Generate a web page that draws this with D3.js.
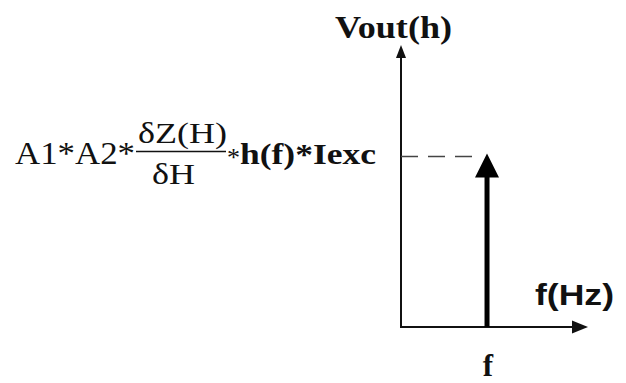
<!DOCTYPE html>
<html>
<head>
<meta charset="utf-8">
<script src="https://cdn.jsdelivr.net/npm/d3@7"></script>
<style>
  body { margin: 0; background: #fff; }
  .serif { font-family: "Liberation Serif", Tinos, "Times New Roman", serif; fill: #111; }
  .sans { font-family: "Liberation Sans", Arimo, Arial, sans-serif; fill: #111; }
</style>
</head>
<body>
<div id="chart"></div>
<script>
// spectrum: a single line at frequency f
var freqLabels = ["f"];
var freqs = [0.46];
var amplitudes = [0.615];
var yLabel = "Vout(h)";
var xLabel = "f(Hz)";

var svgWidth = 626;
var svgHeight = 383;

var margin = { top: 45, right: 38, bottom: 56, left: 401 };
var width = svgWidth - margin.left - margin.right;
var height = svgHeight - margin.top - margin.bottom;

var svg = d3.select("#chart")
  .append("svg")
  .attr("width", svgWidth)
  .attr("height", svgHeight);

var chartGroup = svg.append("g")
  .attr("transform", `translate(${margin.left}, ${margin.top})`);

var xScale = d3.scaleLinear().domain([0, 1]).range([0, width]);
var yScale = d3.scaleLinear().domain([0, 1]).range([height, 0]);

// axes: plain lines with arrow heads
chartGroup.append("line")
  .attr("x1", xScale(0)).attr("y1", yScale(0))
  .attr("x2", xScale(1) - 14).attr("y2", yScale(0))
  .attr("stroke", "#111").attr("stroke-width", 2);

chartGroup.append("path")
  .attr("d", `M${xScale(1)},${yScale(0)} l-16,-6.5 l0,13 Z`)
  .attr("fill", "#111");

chartGroup.append("line")
  .attr("x1", xScale(0)).attr("y1", yScale(0) + 1)
  .attr("x2", xScale(0)).attr("y2", yScale(1) + 11)
  .attr("stroke", "#111").attr("stroke-width", 2);

chartGroup.append("path")
  .attr("d", `M${xScale(0)},${yScale(1)} l-5,13 l10,0 Z`)
  .attr("fill", "#111");

// dashed level line
chartGroup.selectAll(".level")
  .data(amplitudes)
  .enter()
  .append("line")
  .attr("class", "level")
  .attr("x1", xScale(0))
  .attr("x2", (d, i) => xScale(freqs[i]) - 10)
  .attr("y1", d => yScale(d) + 3)
  .attr("y2", d => yScale(d) + 3)
  .attr("stroke", "#444")
  .attr("stroke-width", 1.6)
  .attr("stroke-dasharray", "17,10");

// spike
chartGroup.selectAll(".spike")
  .data(amplitudes)
  .enter()
  .append("line")
  .attr("class", "spike")
  .attr("x1", (d, i) => xScale(freqs[i]))
  .attr("x2", (d, i) => xScale(freqs[i]))
  .attr("y1", yScale(0))
  .attr("y2", d => yScale(d) + 22)
  .attr("stroke", "#000")
  .attr("stroke-width", 5);

chartGroup.selectAll(".head")
  .data(amplitudes)
  .enter()
  .append("path")
  .attr("class", "head")
  .attr("d", (d, i) => `M${xScale(freqs[i])},${yScale(d)} l-12,24 l24,0 Z`)
  .attr("fill", "#000");

// tick labels under the spike
chartGroup.selectAll(".flabel")
  .data(freqLabels)
  .enter()
  .append("text")
  .attr("class", "serif flabel")
  .attr("x", (d, i) => xScale(freqs[i]) + 1)
  .attr("y", height + 49)
  .attr("text-anchor", "middle")
  .style("font-size", "31px")
  .style("font-weight", "bold")
  .text(d => d);

// axis titles
chartGroup.append("text")
  .attr("class", "serif")
  .attr("x", -66)
  .attr("y", -7)
  .attr("textLength", 117)
  .attr("lengthAdjust", "spacingAndGlyphs")
  .style("font-size", "31px")
  .style("font-weight", "bold")
  .text(yLabel);

chartGroup.append("text")
  .attr("class", "sans")
  .attr("x", 134)
  .attr("y", height - 22)
  .attr("textLength", 79)
  .attr("lengthAdjust", "spacingAndGlyphs")
  .style("font-size", "30px")
  .style("font-weight", "bold")
  .text(xLabel);

// amplitude formula at the level of the line
var formula = svg.append("g")
  .attr("transform", `translate(0, ${margin.top + yScale(amplitudes[0])})`);

formula.append("text")
  .attr("class", "serif")
  .attr("x", 15).attr("y", 10)
  .attr("textLength", 120)
  .attr("lengthAdjust", "spacingAndGlyphs")
  .style("font-size", "31px")
  .text("A1*A2*");

formula.append("text")
  .attr("class", "serif")
  .attr("x", 138).attr("y", -11)
  .attr("textLength", 89)
  .attr("lengthAdjust", "spacingAndGlyphs")
  .style("font-size", "30px")
  .text("δZ(H)");

formula.append("line")
  .attr("x1", 136).attr("x2", 226)
  .attr("y1", -2).attr("y2", -2)
  .attr("stroke", "#111").attr("stroke-width", 1.5);

formula.append("text")
  .attr("class", "serif")
  .attr("x", 152).attr("y", 30)
  .attr("textLength", 43)
  .attr("lengthAdjust", "spacingAndGlyphs")
  .style("font-size", "30px")
  .text("δH");

formula.append("text")
  .attr("class", "serif")
  .attr("x", 227).attr("y", 12)
  .style("font-size", "26px")
  .text("*");

formula.append("text")
  .attr("class", "serif")
  .attr("x", 240).attr("y", 10)
  .attr("textLength", 136)
  .attr("lengthAdjust", "spacingAndGlyphs")
  .style("font-size", "30px")
  .style("font-weight", "bold")
  .text("h(f)*Iexc");
</script>
</body>
</html>
